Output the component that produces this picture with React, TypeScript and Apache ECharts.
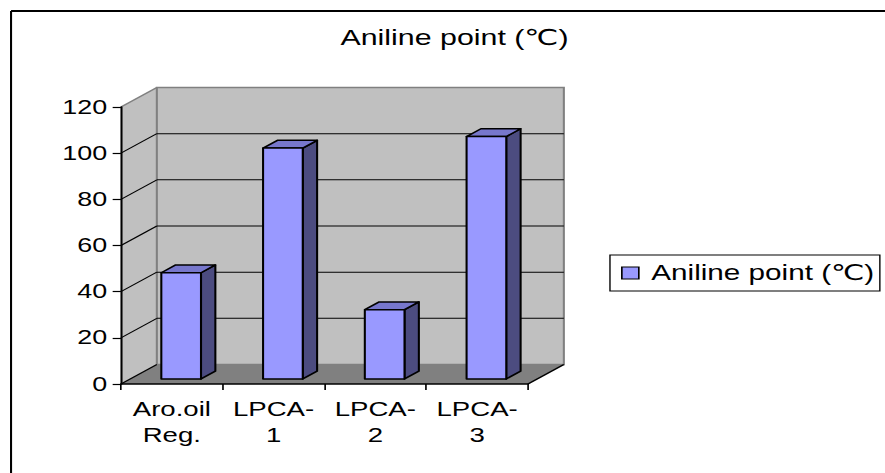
import React, { useEffect, useRef } from "react";
import * as echarts from "echarts";

// ---- data ----
const categories = ["Aro.oil\nReg.", "LPCA-\n1", "LPCA-\n2", "LPCA-\n3"];
const anilinePoint = [46, 100, 30, 105];
const yTicks = [0, 20, 40, 60, 80, 100, 120];
const seriesName = "Aniline point (℃)";
const chartTitle = "Aniline point (℃)";

// ---- layout / style constants ----
const FULL_W = 885;
const H = 473;
const W = 641; // drawing width, stretched horizontally to FULL_W (like the reference)
const SX = FULL_W / W;
const DX = 26; // 3D depth offset
const DY = -19.5;
const F0 = 0.26; // bar front depth fraction
const F1 = 0.66; // bar back depth fraction
const BAR_FRAC = 0.39;
const FONT = "'Liberation Sans', Arial, 'DejaVu Sans', sans-serif";

export default function App() {
  const ref = useRef<HTMLDivElement>(null);

  useEffect(() => {
    if (!ref.current) return;
    const chart = echarts.init(ref.current, null, { renderer: "svg" });
    const yMax = yTicks[yTicks.length - 1];

    const wallsRender = (params: any, api: any) => {
      const cs = params.coordSys;
      const x0 = cs.x;
      const x1 = cs.x + cs.width;
      const yB = api.coord([0, 0])[1];
      const yT = api.coord([0, yMax])[1];
      const children: any[] = [];
      children.push({
        type: "polygon",
        shape: { points: [[x0, yB], [x1, yB], [x1 + DX, yB + DY], [x0 + DX, yB + DY]] },
        style: { fill: "#808080" },
      });
      children.push({
        type: "polygon",
        shape: { points: [[x0, yB], [x0, yT], [x0 + DX, yT + DY], [x0 + DX, yB + DY]] },
        style: { fill: "#C0C0C0" },
      });
      children.push({
        type: "rect",
        shape: { x: x0 + DX, y: yT + DY, width: x1 - x0, height: yB - yT },
        style: { fill: "#C0C0C0", stroke: "#808080", lineWidth: 1.5 },
      });
      yTicks.forEach((v) => {
        const y = api.coord([0, v])[1];
        if (v > 0 && v < yMax) {
          children.push({
            type: "line",
            shape: { x1: x0 + DX, y1: y + DY, x2: x1 + DX, y2: y + DY },
            style: { stroke: "#000", lineWidth: 1 },
          });
          children.push({
            type: "line",
            shape: { x1: x0, y1: y, x2: x0 + DX, y2: y + DY },
            style: { stroke: "#000", lineWidth: 1 },
          });
        }
      });
      children.push({
        type: "line",
        shape: { x1: x0, y1: yT, x2: x0 + DX, y2: yT + DY },
        style: { stroke: "#808080", lineWidth: 1.5 },
      });
      children.push({
        type: "line",
        shape: { x1: x0, y1: yB, x2: x0 + DX, y2: yB + DY },
        style: { stroke: "#000", lineWidth: 1 },
      });
      children.push({
        type: "line",
        shape: { x1: x1, y1: yB, x2: x1 + DX, y2: yB + DY },
        style: { stroke: "#000", lineWidth: 1.5 },
      });
      return { type: "group", children };
    };

    const barsRender = (params: any, api: any) => {
      const idx = api.value(0);
      const val = api.value(1);
      const top = api.coord([idx, val]);
      const base = api.coord([idx, 0]);
      const cw = (api.size([1, 0]) as number[])[0];
      const bw = cw * BAR_FRAC;
      const fx = top[0] - bw / 2 + F0 * DX;
      const fyT = top[1] + F0 * DY;
      const fyB = base[1] + F0 * DY;
      const ddx = (F1 - F0) * DX;
      const ddy = (F1 - F0) * DY;
      const stroke = { stroke: "#000", lineWidth: 1.5, lineJoin: "round" };
      return {
        type: "group",
        children: [
          {
            type: "polygon",
            shape: {
              points: [
                [fx + bw, fyT],
                [fx + bw + ddx, fyT + ddy],
                [fx + bw + ddx, fyB + ddy],
                [fx + bw, fyB],
              ],
            },
            style: { fill: "#4C4C80", ...stroke },
          },
          {
            type: "polygon",
            shape: {
              points: [
                [fx, fyT],
                [fx + ddx, fyT + ddy],
                [fx + bw + ddx, fyT + ddy],
                [fx + bw, fyT],
              ],
            },
            style: { fill: "#7777CC", ...stroke },
          },
          {
            type: "rect",
            shape: { x: fx, y: fyT, width: bw, height: fyB - fyT },
            style: { fill: "#9999FF", ...stroke },
          },
        ],
      };
    };

    chart.setOption({
      animation: false,
      backgroundColor: "#fff",
      title: {
        text: chartTitle,
        left: 329.2,
        top: 27,
        padding: 0,
        textAlign: "center",
        textStyle: { fontSize: 22, fontWeight: "normal", color: "#000", fontFamily: FONT },
      },
      legend: {
        data: [{ name: seriesName, icon: "rect" }],
        left: 441.8,
        top: 255,
        padding: [6, 4, 6, 8],
        itemWidth: 12.3,
        itemHeight: 12,
        borderColor: "#000",
        borderWidth: 1,
        selectedMode: false,
        itemStyle: { color: "#9999FF", borderColor: "#000", borderWidth: 1.2 },
        textStyle: {
          fontSize: 21.5,
          fontFamily: FONT,
          color: "#000",
          lineHeight: 24,
          padding: [0, 0, 0, 4],
        },
      },
      grid: { left: 87.6, top: 107, width: 294.8, height: 277 },
      xAxis: {
        type: "category",
        data: categories,
        boundaryGap: true,
        z: 10,
        axisLine: { show: true, lineStyle: { color: "#000", width: 1.5 } },
        axisTick: { show: true, length: 6, lineStyle: { color: "#000", width: 1.2 } },
        axisLabel: {
          interval: 0,
          fontSize: 20,
          lineHeight: 26,
          margin: 11.5,
          color: "#000",
          fontFamily: FONT,
        },
        splitLine: { show: false },
      },
      yAxis: {
        type: "value",
        min: 0,
        max: yMax,
        interval: 20,
        z: 10,
        axisLine: { show: true, lineStyle: { color: "#000", width: 1.5 } },
        axisTick: { show: true, length: 6, lineStyle: { color: "#000", width: 1.2 } },
        axisLabel: { fontSize: 19.5, margin: 10, color: "#000", fontFamily: FONT },
        splitLine: { show: false },
      },
      graphic: [
        { type: "line", shape: { x1: 8, y1: 11, x2: 8, y2: H }, style: { stroke: "#000", lineWidth: 1.5 } },
        { type: "line", shape: { x1: 8, y1: 11, x2: W, y2: 11 }, style: { stroke: "#000", lineWidth: 2 } },
      ],
      series: [
        {
          type: "custom",
          name: "walls",
          z: 1,
          silent: true,
          renderItem: wallsRender,
          data: [[0, 0]],
          encode: { x: 0, y: 1 },
        },
        {
          type: "custom",
          name: seriesName,
          z: 2,
          itemStyle: { color: "#9999FF" },
          renderItem: barsRender,
          data: anilinePoint.map((v, i) => [i, v]),
          encode: { x: 0, y: 1 },
        },
      ],
    });

    return () => {
      chart.dispose();
    };
  }, []);

  return (
    <div
      ref={ref}
      style={{
        position: "absolute",
        left: 0,
        top: 0,
        width: W,
        height: H,
        transform: `scaleX(${SX})`,
        transformOrigin: "0 0",
      }}
    />
  );
}
